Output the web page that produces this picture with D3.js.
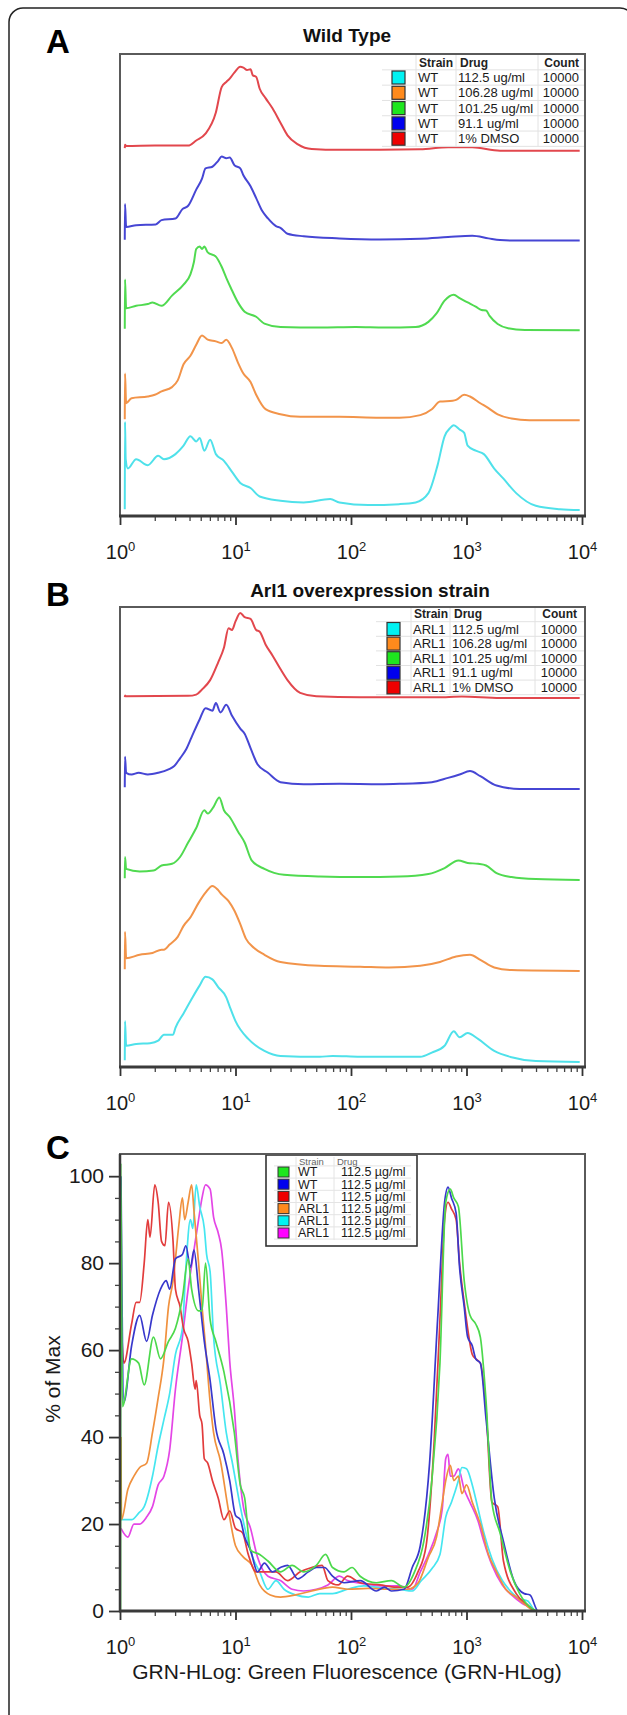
<!DOCTYPE html>
<html><head><meta charset="utf-8">
<script src="https://cdn.jsdelivr.net/npm/d3@7"></script>
<style>
body{margin:0;background:#fff}
svg{display:block}
text{font-family:"Liberation Sans",Arial,Helvetica,sans-serif}
</style>
</head><body>
<svg id="c" width="627" height="1715"></svg>
<script>
// ---------------- DATA ----------------
const xTickValues = [1, 10, 100, 1000, 10000];
const xTickExps = ["0", "1", "2", "3", "4"];
const yTickValuesC = [0, 20, 40, 60, 80, 100];

const titleA = "Wild Type";
const titleB = "Arl1 overexpression strain";
const xLabelC = "GRN-HLog: Green Fluorescence (GRN-HLog)";
const yLabelC = "% of Max";

// Legend rows (top to bottom) panels A & B
const strainsA = ["WT", "WT", "WT", "WT", "WT"];
const strainsB = ["ARL1", "ARL1", "ARL1", "ARL1", "ARL1"];
const drugsAB = ["112.5 ug/ml", "106.28 ug/ml", "101.25 ug/ml", "91.1 ug/ml", "1% DMSO"];
const countsAB = [10000, 10000, 10000, 10000, 10000];
// Legend rows panel C
const strainsC = ["WT", "WT", "WT", "ARL1", "ARL1", "ARL1"];
const drugsC = ["112.5 µg/ml", "112.5 µg/ml", "112.5 µg/ml", "112.5 µg/ml", "112.5 µg/ml", "112.5 µg/ml"];

// Panel A histograms  [fluorescence, % of max]
const A_cyan = [[1.10,1],[1.105,104],[1.12,60],[1.17,49],[1.38,60],[1.74,53],[2.14,64],[2.40,60],[3.02,66],[3.55,76],[4.07,87],[4.57,81],[4.90,85],[5.37,70],[6.03,83],[6.76,66],[7.94,58],[9.33,45],[11.0,32],[13.5,26],[16.2,16],[24.5,11],[38.9,9],[66.1,13],[79.4,9],[141,6],[263,7],[363,9],[468,20],[562,53],[646,87],[724,97],[776,100],[871,95],[955,91],[1023,76],[1202,70],[1413,66],[1738,49],[2089,37],[2692,20],[3981,5],[6457,1],[9550,0]];
const A_orange = [[1.10,1],[1.105,55],[1.13,20],[1.26,26],[1.74,28],[2.00,30],[2.29,34],[2.82,39],[3.16,47],[3.55,66],[4.07,76],[4.57,89],[5.13,100],[5.75,95],[6.76,93],[7.59,91],[8.32,95],[9.33,85],[10.5,68],[11.7,55],[13.5,45],[15.1,30],[18.2,13],[24.5,7],[36.3,4],[79.4,4],[178,3],[263,3],[398,6],[501,13],[589,22],[759,23],[813,24],[955,30],[1072,28],[1318,20],[1479,16],[1862,7],[2455,2],[3500,0],[9550,0]];
const A_green = [[1.10,2],[1.105,60],[1.13,26],[1.38,29],[1.74,31],[1.91,33],[2.29,29],[2.82,41],[3.55,54],[4.07,66],[4.37,81],[4.57,96],[4.90,99],[5.13,96],[5.37,99],[5.75,92],[6.76,87],[7.59,75],[8.32,62],[9.12,50],[10.5,33],[12.0,22],[15.1,16],[17.8,8],[24.5,4],[53.7,3.4],[110,4],[195,3.4],[363,4],[468,10],[550,20],[646,35],[776,42],[871,38],[1023,33],[1202,28],[1349,24],[1479,23.5],[1585,17],[1862,7.5],[2291,2.5],[3200,0.5],[9550,0]];
const A_blue = [[1.10,1],[1.105,43],[1.13,16],[1.38,18],[2.04,19],[2.29,24],[3.02,26],[3.47,37],[3.89,41],[4.57,60],[5.13,73],[5.50,85],[6.31,87],[7.08,94],[7.59,99],[8.32,97],[8.91,98],[9.77,89],[11.0,85],[11.7,77],[13.5,64],[15.1,50],[17.0,35],[19.1,26],[22.4,17],[24.5,15],[28.2,8],[38.9,5],[79.4,2.5],[178,1.3],[398,2],[692,4],[1122,5.5],[1549,2.5],[1950,0.5],[2400,0],[9550,0]];
const A_red = [[1.10,3],[1.105,7],[1.13,5.5],[2.00,6],[3.89,6],[4.57,12],[5.50,20],[6.76,45],[7.59,75],[8.32,81],[8.91,85],[9.77,92],[11.0,99],[11.7,98],[12.6,95],[13.5,96],[14.1,89],[15.1,87],[16.2,73],[18.2,62],[20.9,50],[24.5,33],[28.2,18],[34.7,7.5],[45.7,2],[79.4,1],[178,1],[398,1.5],[692,4],[1122,4],[1950,0],[9550,0]];

// Panel B histograms
const B_cyan = [[1.10,2],[1.105,48],[1.13,19],[1.38,21],[1.82,22],[2.14,25],[2.40,32],[2.88,32],[3.02,40],[3.55,57],[4.17,74],[4.90,90],[5.50,100],[6.31,97],[7.08,88],[8.32,76],[8.91,65],[10.0,48],[12.9,27],[17.8,13],[24.5,7],[53.7,6],[69.2,7],[120,6],[398,6],[501,11],[646,19],[776,36],[871,29],[1023,34],[1259,27],[1738,13],[2455,5.5],[3981,1],[9550,0]];
const B_orange = [[1.10,2],[1.105,46],[1.13,15],[1.48,19],[1.91,21],[2.29,25],[2.40,25],[2.69,31],[3.16,40],[3.55,53],[4.07,63],[4.79,80],[5.50,92],[6.31,100],[7.08,95],[7.59,90],[8.71,82],[9.77,71],[11.0,55],[12.3,38],[14.5,27],[17.8,19],[24.5,10.5],[53.7,6],[120,5],[214,4],[398,6],[589,10.5],[813,17],[1072,19],[1318,13],[1738,4],[2455,1],[9550,0]];
const B_green = [[1.10,2],[1.105,27],[1.13,13],[1.48,10],[1.95,11],[2.29,17],[2.82,19],[3.31,27],[3.89,44],[4.57,61],[5.37,82],[5.75,78],[6.46,86],[7.24,97],[7.94,82],[8.91,74],[10.5,57],[12.0,44],[13.8,23],[17.8,13],[26.3,6],[53.7,4],[120,3.4],[263,4],[468,7],[646,14],[851,23],[1023,20],[1259,19],[1479,17],[1820,8],[2455,3.4],[3981,1],[9550,0]];
const B_blue = [[1.10,2],[1.105,38],[1.13,19],[1.26,17],[1.45,19],[1.74,17],[2.14,19],[2.63,23],[2.95,27],[3.31,36],[3.72,46],[4.17,61],[4.90,82],[5.50,95],[6.31,92],[6.76,101],[7.41,90],[8.32,99],[9.33,86],[11.0,71],[12.0,65],[13.5,48],[15.5,29],[19.1,19],[24.5,8],[38.9,5.5],[79.4,6],[178,5.5],[263,6],[501,8],[692,13],[871,17],[1072,21],[1318,15],[1820,4],[2884,0],[9550,0]];
const B_red = [[1.10,1],[1.105,3],[1.13,2],[3.89,2.5],[4.57,4],[5.13,10],[6.03,21],[7.08,42],[7.94,59],[8.71,82],[9.33,80],[10.0,90],[11.0,100],[12.0,95],[13.5,93],[15.1,80],[16.2,78],[18.2,63],[20.9,50],[24.5,34],[28.2,21],[36.3,6],[50.1,2],[120,1],[661,1],[912,1.7],[1950,0],[9550,0]];

// Panel C overlays (% of Max)
const C_magenta = [[1.02,19],[1.17,17],[1.32,20],[1.48,20],[1.70,21.6],[1.91,24],[2.14,29],[2.40,31],[2.69,37],[3.02,51],[3.47,63],[3.89,74],[4.37,83],[4.79,90],[5.13,95],[5.50,98],[6.03,97],[6.46,90.6],[7.08,87],[7.59,83],[8.32,70],[8.91,57.5],[9.77,46.5],[10.5,35],[11.7,24],[13.5,19],[15.5,12.4],[19.1,8],[24.5,7],[30.9,5],[38.9,4.6],[50.1,5],[63.1,6],[79.4,8],[93.3,7],[120,6.4],[178,5.8],[263,5.8],[339,5],[398,9],[468,13],[550,18],[617,23.5],[661,35],[692,36],[724,31],[776,31],[851,32.7],[955,28],[1072,25],[1259,20.7],[1413,16],[1660,10.6],[2042,6],[2455,3.7],[3020,1.8],[3715,0.6],[3981,0],[10000,0]];
const C_cyan = [[1.02,21],[1.26,21],[1.45,22.5],[1.62,24],[1.91,31],[2.14,38],[2.40,44],[2.69,50],[3.02,59],[3.47,65],[3.72,79],[4.07,90],[4.27,88],[4.57,98],[4.90,93],[5.37,88],[5.62,82],[6.03,78],[6.46,63],[7.41,52],[8.32,41],[9.33,34.5],[11.0,24],[12.3,18],[13.8,13],[16.2,9],[19.1,5],[22.4,7],[26.3,5],[33.1,3.7],[42.7,3.2],[53.7,4],[69.2,4],[93.3,5],[129,5.8],[195,5.2],[263,5],[339,4.6],[407,7],[501,9.7],[589,13],[661,21.6],[741,25],[851,30],[912,33],[1000,32.7],[1122,29],[1259,23.5],[1413,18],[1660,12],[2042,7],[2399,4.6],[2884,2.8],[3388,2.3],[3981,0],[10000,0]];
const C_orange = [[1.02,40],[1.03,21],[1.17,28],[1.32,31],[1.48,33],[1.70,34],[1.91,41],[2.14,49],[2.40,58],[2.63,70],[2.88,76],[3.02,81],[3.24,89],[3.47,95],[3.63,90],[3.89,94],[4.17,98],[4.37,92],[4.79,80],[5.13,70],[5.50,61],[6.03,48],[6.46,41],[7.41,34.5],[8.71,23],[10.0,15],[11.7,12.4],[13.8,10.6],[16.2,6],[20.0,3.7],[24.5,3.2],[33.1,3.7],[45.7,4.6],[69.2,5.5],[93.3,5],[141,5.2],[224,5],[309,5],[380,6.4],[468,12.4],[550,17],[617,25],[661,30],[724,33.5],[776,30],[851,31],[912,27],[1000,29],[1122,25],[1318,20],[1549,13],[1820,9],[2188,5],[2692,3.2],[3236,1.4],[3981,0],[10000,0]];
const C_red = [[1.03,65],[1.08,57],[1.26,66],[1.38,71],[1.48,71],[1.62,80],[1.74,90],[1.82,86],[2.00,98],[2.14,94],[2.29,85],[2.45,84],[2.63,94],[2.88,85],[3.02,74],[3.31,70],[3.55,65],[3.89,62],[4.17,57],[4.47,51],[4.57,53],[4.90,45],[5.13,43],[5.37,35],[5.75,34],[6.31,30],[7.08,26],[7.94,21],[8.91,23],[10.0,19],[11.5,18],[12.9,13],[15.1,9],[18.2,9],[22.4,9],[28.2,7],[36.3,9],[45.7,10],[56.2,10.5],[63.1,7],[77.6,6],[93.3,8],[120,6.5],[178,6],[245,5.5],[309,5.5],[380,9],[447,15],[525,39],[589,67],[646,90],[692,94],[741,92.5],[813,90],[871,80],[955,71],[1023,65],[1122,59],[1202,58],[1318,57],[1479,46],[1660,25],[1862,24],[2089,11.5],[2692,4],[3388,1.4],[3981,0],[10000,0]];
const C_blue = [[1.02,100],[1.08,48],[1.26,61],[1.48,68],[1.70,62],[1.91,68],[2.24,74],[2.51,76],[2.69,74],[3.02,81],[3.47,82],[3.72,84],[4.07,79],[4.37,83],[4.79,74],[5.37,62],[6.03,53],[6.76,42],[7.94,36],[8.91,30],[10.0,22],[11.0,21],[12.0,17],[13.5,14],[15.5,9],[17.8,11],[20.9,9],[24.5,10],[28.2,10.5],[34.7,7.4],[42.7,9],[50.1,10],[58.9,10],[69.2,8],[87.1,6.5],[120,7],[166,4.6],[195,5.5],[224,4.6],[288,5],[339,10],[398,15],[479,34],[562,67],[646,94],[692,97.5],[741,95],[813,91.5],[871,79],[955,70],[1023,63],[1122,61],[1202,58],[1318,57],[1479,44],[1738,26],[2089,16],[2570,7],[3162,4],[3548,3.7],[4169,0],[10000,0]];
const C_green = [[1.01,0],[1.015,103],[1.05,47],[1.26,58],[1.45,57],[1.62,52],[1.95,63],[2.24,58],[2.63,62],[3.02,65],[3.47,72],[3.89,81],[4.17,74],[4.79,69],[5.13,69],[5.50,80],[6.03,67],[6.76,62],[7.94,55],[9.77,41],[11.0,29],[12.0,26],[13.5,14],[16.2,13],[19.1,11.5],[24.5,9],[30.9,10.5],[38.9,9],[50.1,10.5],[60.3,13],[69.2,10],[87.1,9],[102,10],[120,8],[166,6.5],[224,7],[288,5.5],[355,9],[427,16],[501,30],[589,57],[661,94],[724,97],[776,95],[851,93],[955,76],[1072,68],[1202,66],[1318,63],[1479,48],[1660,25],[1950,18],[2399,9],[2884,4],[3715,0.5],[4169,0],[10000,0]];

// ---------------- STYLE ----------------
const col = {
  cyan: "#4fe1ea", orange: "#f2944a", green: "#50da50", blue: "#4646d4", red: "#e2474d", magenta: "#e446e6"
};
const sw = {
  cyan: "#00f2f2", orange: "#ff8a1c", green: "#1ee61e", blue: "#0000ee", red: "#ee0000", magenta: "#ff00ff"
};
const FONT = '"Liberation Sans",Arial,Helvetica,sans-serif';
const CURVE = d3.curveMonotoneX;

const svg = d3.select("#c");
svg.append("rect").attr("width", 627).attr("height", 1715).attr("fill", "#fff");
// outer rounded border
svg.append("rect").attr("x", 9).attr("y", 8).attr("width", 625).attr("height", 1740)
  .attr("rx", 14).attr("fill", "none").attr("stroke", "#222").attr("stroke-width", 1.5);

const PL = 120, PR = 585;
const x = d3.scaleLog().domain([1, 10000]).range([120, 582]);
const minorTicks = [];
for (let d = 0; d < 4; d++) for (let m = 2; m <= 9; m++) minorTicks.push(m * Math.pow(10, d));

function frame(top, bottom) {
  svg.append("rect").attr("x", PL).attr("y", top).attr("width", PR - PL).attr("height", bottom - top)
    .attr("fill", "none").attr("stroke", "#5a5a5a").attr("stroke-width", 2);
}
function xAxis(yAx) {
  const gMin = svg.append("g").attr("transform", `translate(0,${yAx})`)
    .call(d3.axisBottom(x).tickValues(minorTicks).tickSize(5).tickSizeOuter(0).tickFormat(""));
  gMin.select(".domain").remove();
  gMin.selectAll(".tick line").attr("stroke", "#444").attr("stroke-width", 1.3);
  const gMaj = svg.append("g").attr("transform", `translate(0,${yAx})`)
    .call(d3.axisBottom(x).tickValues(xTickValues).tickSize(9).tickSizeOuter(0));
  gMaj.attr("font-size", null).attr("font-family", null);
  gMaj.select(".domain").remove();
  gMaj.selectAll(".tick line").attr("stroke", "#333").attr("stroke-width", 1.8);
  gMaj.selectAll(".tick text").each(function (d, i) {
    const t = d3.select(this);
    t.text(null).attr("y", 43).attr("dy", null).attr("font-size", 20).attr("fill", "#1a1a1a")
      .attr("font-family", FONT).attr("text-anchor", "middle");
    t.append("tspan").text("10");
    t.append("tspan").attr("dy", -8).attr("font-size", 13).text(xTickExps[i]);
  });
  svg.append("line").attr("x1", PL - 1).attr("x2", PR + 1).attr("y1", yAx).attr("y2", yAx)
    .attr("stroke", "#3a3a3a").attr("stroke-width", 3);
}
function letter(t, yb) {
  svg.append("text").attr("x", 46).attr("y", yb).attr("font-size", 33).attr("font-weight", "bold")
    .attr("fill", "#000").text(t);
}
function stackedPanel(top, bottom, ymax, offsets, series, colors) {
  const y = d3.scaleLinear().domain([0, ymax]).range([bottom, top]);
  series.forEach((s, i) => {
    const line = d3.line().curve(CURVE).x(d => x(d[0])).y(d => y(offsets[i] + d[1]));
    svg.append("path").datum(s).attr("d", line).attr("fill", "none")
      .attr("stroke", colors[i]).attr("stroke-width", 2).attr("stroke-linejoin", "round");
  });
}
function legendAB(o, strains, colors) {
  const g = svg.append("g");
  const n = strains.length;
  const rowTop = i => o.row0 + o.rowH * i - o.rowH / 2;
  const bottom = rowTop(n);
  g.append("rect").attr("x", o.left).attr("y", o.top).attr("width", PR - o.left).attr("height", bottom - o.top)
    .attr("fill", "#fff");
  const hl = [o.row0 - o.rowH / 2];
  for (let i = 1; i <= n; i++) hl.push(rowTop(i));
  hl.forEach(yy => g.append("line").attr("x1", o.left).attr("x2", PR).attr("y1", yy).attr("y2", yy)
    .attr("stroke", "#e2e2e2").attr("stroke-width", 1));
  o.vlines.forEach(xx => g.append("line").attr("x1", xx).attr("x2", xx).attr("y1", o.top).attr("y2", bottom)
    .attr("stroke", "#e2e2e2").attr("stroke-width", 1));
  const hy = o.header + 4.3;
  g.append("text").attr("x", o.strainX + 1).attr("y", hy).attr("font-size", 12).attr("font-weight", "bold").attr("fill", "#222").text("Strain");
  g.append("text").attr("x", o.drugX + 2).attr("y", hy).attr("font-size", 12).attr("font-weight", "bold").attr("fill", "#222").text("Drug");
  g.append("text").attr("x", o.countR).attr("y", hy).attr("text-anchor", "end").attr("font-size", 12).attr("font-weight", "bold").attr("fill", "#222").text("Count");
  strains.forEach((s, i) => {
    const cy = o.row0 + o.rowH * i;
    g.append("rect").attr("x", o.sqX).attr("y", cy - 6.5).attr("width", 13).attr("height", 13)
      .attr("fill", colors[i]).attr("stroke", "#333").attr("stroke-width", 1.2);
    g.append("text").attr("x", o.strainX).attr("y", cy + 4.6).attr("font-size", 13).attr("fill", "#1a1a1a").text(s);
    g.append("text").attr("x", o.drugX).attr("y", cy + 4.6).attr("font-size", 13).attr("fill", "#1a1a1a").text(drugsAB[i]);
    g.append("text").attr("x", o.countR).attr("y", cy + 4.6).attr("text-anchor", "end").attr("font-size", 13).attr("fill", "#1a1a1a").text(countsAB[i]);
  });
}

// ---------------- PANEL A ----------------
const aTop = 54, aBot = 516;
letter("A", 53);
svg.append("text").attr("x", 347).attr("y", 42).attr("text-anchor", "middle").attr("font-size", 19)
  .attr("font-weight", "bold").attr("fill", "#111").text(titleA);
stackedPanel(aTop, aBot, 545, [7, 113, 219, 325, 431],
  [A_cyan, A_orange, A_green, A_blue, A_red], [col.cyan, col.orange, col.green, col.blue, col.red]);
legendAB({ left: 382, top: aTop, header: 62.5, row0: 77.5, rowH: 15.3, sqX: 392, strainX: 418, drugX: 458,
  countR: 579, vlines: [416, 456, 538] }, strainsA, [sw.cyan, sw.orange, sw.green, sw.blue, sw.red]);
frame(aTop, aBot);
xAxis(aBot);

// ---------------- PANEL B ----------------
const bTop = 607, bBot = 1067;
letter("B", 606);
svg.append("text").attr("x", 370).attr("y", 597).attr("text-anchor", "middle").attr("font-size", 19)
  .attr("font-weight", "bold").attr("fill", "#111").text(titleB);
stackedPanel(bTop, bBot, 541, [6, 113, 220, 327, 434],
  [B_cyan, B_orange, B_green, B_blue, B_red], [col.cyan, col.orange, col.green, col.blue, col.red]);
legendAB({ left: 376, top: bTop, header: 614, row0: 629, rowH: 14.6, sqX: 387, strainX: 413, drugX: 452,
  countR: 577, vlines: [411, 450, 535] }, strainsB, [sw.cyan, sw.orange, sw.green, sw.blue, sw.red]);
frame(bTop, bBot);
xAxis(bBot);

// ---------------- PANEL C ----------------
const cTop = 1154, cBot = 1611;
letter("C", 1159);
const yC = d3.scaleLinear().domain([0, 105.1]).range([cBot, cTop]);
const cSeries = [C_magenta, C_cyan, C_orange, C_red, C_blue, C_green];
const cColors = [col.magenta, "#45e6f0", "#f0913e", "#e23c3c", "#3838cc", "#4cd94c"];
cSeries.forEach((s, i) => {
  const line = d3.line().curve(CURVE).x(d => x(d[0])).y(d => yC(d[1]));
  svg.append("path").datum(s).attr("d", line).attr("fill", "none").attr("stroke", cColors[i])
    .attr("stroke-width", 1.7).attr("stroke-linejoin", "round");
});
// legend C
(function () {
  const g = svg.append("g");
  const L = 266, R = 417, T = 1155, B = 1246;
  const row0 = 1172, rowH = 12.2;
  g.append("rect").attr("x", L).attr("y", T).attr("width", R - L).attr("height", B - T)
    .attr("fill", "#fff").attr("stroke", "#333").attr("stroke-width", 1.6);
  for (let i = 0; i <= strainsC.length; i++) {
    const yy = row0 - rowH / 2 + rowH * i;
    g.append("line").attr("x1", L + 8).attr("x2", R - 6).attr("y1", yy).attr("y2", yy).attr("stroke", "#e4e4e4");
  }
  [296, 334].forEach(xx => g.append("line").attr("x1", xx).attr("x2", xx).attr("y1", T + 2).attr("y2", B - 6).attr("stroke", "#e4e4e4"));
  g.append("text").attr("x", 299).attr("y", 1165).attr("font-size", 9.5).attr("fill", "#666").text("Strain");
  g.append("text").attr("x", 337).attr("y", 1165).attr("font-size", 9.5).attr("fill", "#666").text("Drug");
  const sq = [sw.green, sw.blue, sw.red, sw.orange, sw.cyan, sw.magenta];
  strainsC.forEach((s, i) => {
    const cy = row0 + rowH * i;
    g.append("rect").attr("x", 278).attr("y", cy - 5).attr("width", 11).attr("height", 10)
      .attr("fill", sq[i]).attr("stroke", "#333").attr("stroke-width", 1);
    g.append("text").attr("x", 298).attr("y", cy + 4.3).attr("font-size", 12.5).attr("fill", "#1a1a1a").text(s);
    g.append("text").attr("x", 341).attr("y", cy + 4.3).attr("font-size", 12.5).attr("fill", "#1a1a1a").text(drugsC[i]);
  });
})();
frame(cTop, cBot);
// y axis C
(function () {
  const minorY = [];
  for (let v = 0; v <= 100; v += 5) if (v % 20 !== 0) minorY.push(v);
  const gMin = svg.append("g").attr("transform", `translate(${PL},0)`)
    .call(d3.axisLeft(yC).tickValues(minorY).tickSize(5).tickSizeOuter(0).tickFormat(""));
  gMin.select(".domain").remove();
  gMin.selectAll(".tick line").attr("stroke", "#444").attr("stroke-width", 1.3);
  const gMaj = svg.append("g").attr("transform", `translate(${PL},0)`)
    .call(d3.axisLeft(yC).tickValues(yTickValuesC).tickSize(11).tickPadding(5).tickSizeOuter(0));
  gMaj.attr("font-size", null).attr("font-family", null);
  gMaj.select(".domain").remove();
  gMaj.selectAll(".tick line").attr("stroke", "#333").attr("stroke-width", 1.8);
  gMaj.selectAll(".tick text").attr("font-size", 21).attr("fill", "#1a1a1a").attr("font-family", FONT);
  svg.append("line").attr("x1", PL).attr("x2", PL).attr("y1", cTop).attr("y2", cBot)
    .attr("stroke", "#3a3a3a").attr("stroke-width", 2.5);
})();
xAxis(cBot);
svg.append("text").attr("x", 347).attr("y", 1679).attr("text-anchor", "middle").attr("font-size", 21)
  .attr("fill", "#1a1a1a").text(xLabelC);
svg.append("text").attr("transform", "translate(52,1379) rotate(-90)").attr("text-anchor", "middle")
  .attr("dominant-baseline", "central").attr("font-size", 21).attr("fill", "#1a1a1a").text(yLabelC);
</script>
</body></html>
